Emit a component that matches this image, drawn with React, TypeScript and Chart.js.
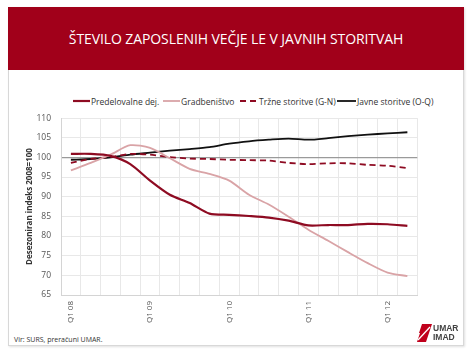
import React, { useEffect, useRef } from "react";
import { Chart, registerables } from "chart.js";

Chart.register(...registerables);

const quarters = [
  "Q1 08", "Q2 08", "Q3 08", "Q4 08",
  "Q1 09", "Q2 09", "Q3 09", "Q4 09",
  "Q1 10", "Q2 10", "Q3 10", "Q4 10",
  "Q1 11", "Q2 11", "Q3 11", "Q4 11",
  "Q1 12", "Q2 12",
];
const predelovalne = [100.9, 100.9, 100.4, 98.3, 94.1, 90.5, 88.4, 85.7, 85.4, 85.1, 84.7, 83.9, 82.7, 82.8, 82.8, 83.1, 83.0, 82.6];
const gradbenistvo = [96.7, 98.6, 100.7, 103.1, 102.4, 99.8, 97.1, 95.8, 94.1, 90.5, 88.0, 84.9, 81.6, 78.8, 75.9, 73.1, 70.7, 69.8];
const trzne = [98.6, 99.6, 100.1, 100.9, 100.7, 100.1, 99.7, 99.6, 99.4, 99.3, 99.2, 98.6, 98.3, 98.5, 98.5, 98.1, 97.9, 97.3];
const javne = [99.4, 99.6, 100.0, 100.7, 101.2, 101.7, 102.1, 102.6, 103.5, 104.1, 104.5, 104.8, 104.5, 104.9, 105.4, 105.8, 106.1, 106.4];

const seriesNames = ["Predelovalne dej.", "Gradbeništvo", "Tržne storitve (G-N)", "Javne storitve (O-Q)"];
const yMin = 65;
const yMax = 110;
const yStep = 5;

const DARK_RED = "#8e0b22";
const PINK = "#d9a3a6";
const BLACK = "#111111";
const FONT = "'Open Sans', 'Liberation Sans', sans-serif";

export default function App() {
  const canvasRef = useRef<HTMLCanvasElement | null>(null);

  useEffect(() => {
    document.body.style.margin = "0";
    const ctx = canvasRef.current;
    if (!ctx) return;
    const chart = new Chart(ctx, {
      type: "line",
      data: {
        labels: quarters,
        datasets: [
          { label: seriesNames[0], data: predelovalne, borderColor: DARK_RED, borderWidth: 2.2, pointRadius: 0, tension: 0.25, fill: false },
          { label: seriesNames[1], data: gradbenistvo, borderColor: PINK, borderWidth: 1.8, pointRadius: 0, tension: 0.25, fill: false },
          { label: seriesNames[2], data: trzne, borderColor: DARK_RED, borderWidth: 1.8, borderDash: [6, 4], pointRadius: 0, tension: 0.25, fill: false },
          { label: seriesNames[3], data: javne, borderColor: BLACK, borderWidth: 1.8, pointRadius: 0, tension: 0.25, fill: false },
        ],
      },
      options: {
        responsive: false,
        animation: false,
        layout: { padding: { top: 10, right: 1, bottom: 0, left: 0 } },
        plugins: { legend: { display: false }, tooltip: { enabled: false }, title: { display: false } },
        scales: {
          x: {
            offset: true,
            grid: { offset: true, color: "#e8e8e8", lineWidth: 1, drawTicks: false },
            border: { color: "#d4d4d4" },
            ticks: {
              autoSkip: false,
              maxRotation: 90,
              minRotation: 90,
              padding: 6,
              color: "#555",
              font: { family: FONT, size: 8 },
              callback: (_v: any, i: number) => (i % 4 === 0 ? quarters[i] : ""),
            },
            afterFit: (scale: any) => { scale.height = 40; },
          },
          y: {
            min: yMin,
            max: yMax,
            ticks: { stepSize: yStep, color: "#555", padding: 10, font: { family: FONT, size: 8.5 } },
            grid: {
              drawTicks: false,
              color: (c: any) => (c.tick && c.tick.value === 100 ? "#9a9a9a" : "#e8e8e8"),
              lineWidth: (c: any) => (c.tick && c.tick.value === 100 ? 1.3 : 1),
            },
            border: { color: "#d4d4d4" },
            title: {
              display: true,
              text: "Desezoniran indeks 2008=100",
              color: "#333",
              font: { family: FONT, size: 8, weight: "bold" },
              padding: { top: 11, bottom: 2 },
            },
            afterFit: (scale: any) => { scale.width = 47; },
          },
        },
      },
    });
    return () => chart.destroy();
  }, []);

  const legendItem = (x: number, color: string, dashed: boolean, width: number, text: string, lineW: number) => (
    <div key={text} style={{ position: "absolute", left: x, top: 95, height: 12, display: "flex", alignItems: "center" }}>
      <svg width={lineW} height={4} style={{ display: "block" }}>
        <line x1={0} y1={2} x2={lineW} y2={2} stroke={color} strokeWidth={width} strokeDasharray={dashed ? "6 4" : undefined} />
      </svg>
      <span style={{ fontFamily: FONT, fontSize: 8.5, color: "#333", marginLeft: 1, whiteSpace: "nowrap" }}>{text}</span>
    </div>
  );

  return (
    <div style={{ position: "relative", width: 472, height: 354, background: "#fff", overflow: "hidden" }}>
      <div style={{ position: "absolute", left: 8, top: 7, width: 454, height: 337, border: "1px solid #d8d8d8", boxShadow: "1px 1px 2px rgba(0,0,0,0.12)", background: "#fff" }} />
      <div style={{ position: "absolute", left: 8, top: 7, width: 456, height: 63, background: "#a1001a", display: "flex", alignItems: "center", justifyContent: "center" }}>
        <span style={{ fontFamily: FONT, fontSize: 14, color: "#fff", letterSpacing: -0.1, whiteSpace: "nowrap" }}>ŠTEVILO ZAPOSLENIH VEČJE LE V JAVNIH STORITVAH</span>
      </div>
      {legendItem(73, DARK_RED, false, 2.2, seriesNames[0], 17)}
      {legendItem(163, PINK, false, 1.8, seriesNames[1], 17)}
      {legendItem(240, DARK_RED, true, 1.8, seriesNames[2], 18)}
      {legendItem(337, BLACK, false, 1.8, seriesNames[3], 19)}
      <canvas ref={canvasRef} width={409} height={232} style={{ position: "absolute", left: 14, top: 103, width: 409, height: 232 }} />
      <div style={{ position: "absolute", left: 14, top: 335, fontFamily: FONT, fontSize: 7, color: "#333", whiteSpace: "nowrap" }}>Vir: SURS, preračuni UMAR.</div>
      <div style={{ position: "absolute", left: 417, top: 324, display: "flex", alignItems: "center" }}>
        <svg width={15} height={18} style={{ display: "block" }}>
          <polygon points="5,0 15,0 12,9 2,9" fill="#c0001c" />
          <polygon points="3,9 12,9 9,18 0,18" fill="#c0001c" />
          <line x1={1} y1={16} x2={13} y2={3} stroke="#fff" strokeWidth={1.3} />
        </svg>
        <div style={{ fontFamily: "'Liberation Sans Narrow', 'Liberation Sans', sans-serif", fontWeight: "bold", fontSize: 8.5, lineHeight: "9px", color: "#444", marginLeft: 1 }}>
          <div>UMAR</div>
          <div>IMAD</div>
        </div>
      </div>
    </div>
  );
}
